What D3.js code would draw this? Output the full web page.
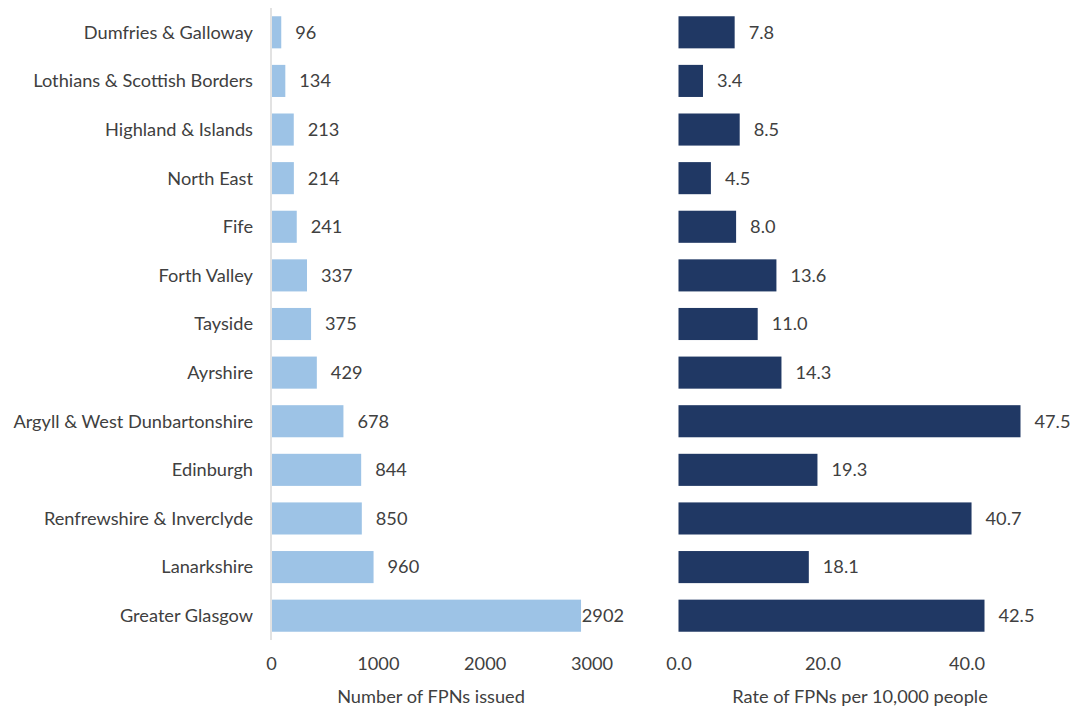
<!DOCTYPE html>
<html><head><meta charset="utf-8">
<script src="https://cdn.jsdelivr.net/npm/d3@7"></script>
<style>body{margin:0;background:#fff}svg{display:block}text{font-family:Lato,"Open Sans",sans-serif}</style>
</head><body><svg id="c" width="1072" height="711"></svg>
<script>
const regions = ["Dumfries & Galloway","Lothians & Scottish Borders","Highland & Islands","North East","Fife","Forth Valley","Tayside","Ayrshire","Argyll & West Dunbartonshire","Edinburgh","Renfrewshire & Inverclyde","Lanarkshire","Greater Glasgow"];
const fpnCounts = [96,134,213,214,241,337,375,429,678,844,850,960,2902];
const fpnRates = [7.8,3.4,8.5,4.5,8.0,13.6,11.0,14.3,47.5,19.3,40.7,18.1,42.5];
const countTicks = [0,1000,2000,3000];
const rateTicks = [0,20,40];
const countTitle = "Number of FPNs issued";
const rateTitle = "Rate of FPNs per 10,000 people";

const svg = d3.select("#c");
const txt = "#404040";
const fs = 18.2;
const y = d3.scaleBand().domain(regions).range([8, 640]).paddingInner(0.34).paddingOuter(0.17);

// Left panel
const xL = d3.scaleLinear().domain([0,3000]).range([271, 591.5]);
const leftLimit = 624;
svg.append("line").attr("x1",271).attr("x2",271).attr("y1",8).attr("y2",640).attr("stroke","#d9d9d9").attr("stroke-width",1.5);
svg.selectAll("rect.l").data(regions).join("rect").attr("class","l")
  .attr("x",xL(0)+1).attr("y",d=>y(d)).attr("height",y.bandwidth())
  .attr("width",(d,i)=>xL(fpnCounts[i])-xL(0)-1).attr("fill","#9dc3e6");
svg.selectAll("text.lv").data(regions).join("text").attr("class","lv")
  .attr("y",d=>y(d)+y.bandwidth()/2).attr("dy","0.35em")
  .attr("font-size",fs).attr("fill",txt).text((d,i)=>fpnCounts[i])
  .attr("x",function(d,i){const w=this.getComputedTextLength();return Math.min(xL(fpnCounts[i])+14, leftLimit-w);});
svg.selectAll("text.cat").data(regions).join("text").attr("class","cat")
  .attr("x",253).attr("y",d=>y(d)+y.bandwidth()/2).attr("dy","0.35em").attr("text-anchor","end")
  .attr("font-size",fs).attr("fill",txt).text(d=>d);
const axL = svg.append("g").attr("transform","translate(0,654)").call(d3.axisBottom(xL).tickValues(countTicks).tickSize(0).tickFormat(d3.format("d")));
axL.select(".domain").remove();
axL.selectAll("text").attr("font-size",fs).attr("fill",txt).attr("font-family","Lato");
svg.append("text").attr("x",431).attr("y",697).attr("dy","0.35em").attr("text-anchor","middle").attr("font-size",fs).attr("fill",txt).text(countTitle);

// Right panel
const xR = d3.scaleLinear().domain([0,40]).range([678.5, 966.5]);
svg.selectAll("rect.r").data(regions).join("rect").attr("class","r")
  .attr("x",xR(0)).attr("y",d=>y(d)).attr("height",y.bandwidth())
  .attr("width",(d,i)=>xR(fpnRates[i])-xR(0)).attr("fill","#203864");
svg.selectAll("text.rv").data(regions).join("text").attr("class","rv")
  .attr("x",(d,i)=>xR(fpnRates[i])+14).attr("y",d=>y(d)+y.bandwidth()/2).attr("dy","0.35em")
  .attr("font-size",fs).attr("fill",txt).text((d,i)=>fpnRates[i].toFixed(1));
const axR = svg.append("g").attr("transform","translate(0,654)").call(d3.axisBottom(xR).tickValues(rateTicks).tickSize(0).tickFormat(d3.format(".1f")));
axR.select(".domain").remove();
axR.selectAll("text").attr("font-size",fs).attr("fill",txt).attr("font-family","Lato");
svg.append("text").attr("x",860).attr("y",697).attr("dy","0.35em").attr("text-anchor","middle").attr("font-size",fs).attr("fill",txt).text(rateTitle);
</script></body></html>
